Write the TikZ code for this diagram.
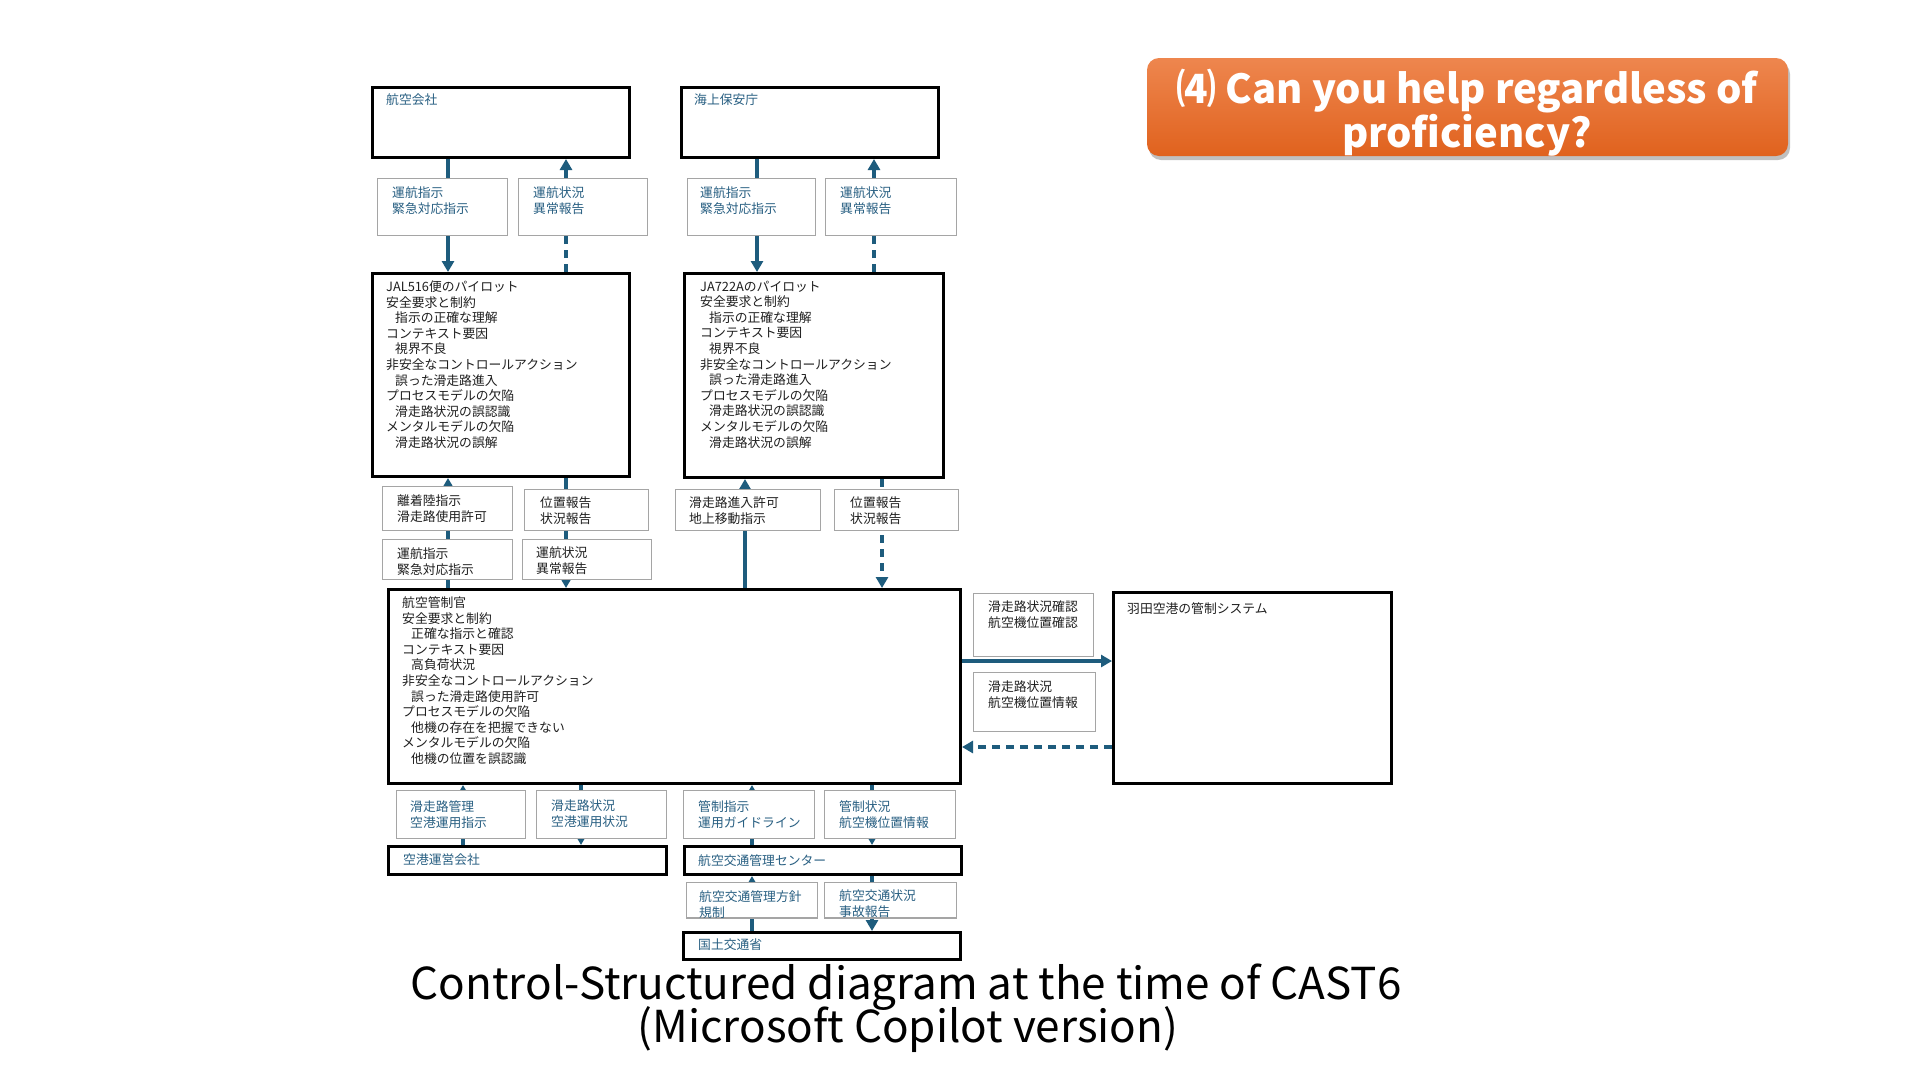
\documentclass[tikz,border=0pt]{standalone}
\usepackage{fontspec}
\setmainfont{Noto Sans CJK JP}
\usetikzlibrary{arrows.meta,shadows}
\definecolor{teal1}{RGB}{40,95,130}
\definecolor{arrowc}{RGB}{30,92,125}
\definecolor{lblgray}{RGB}{165,165,165}
\definecolor{orT}{RGB}{238,134,78}
\definecolor{orB}{RGB}{224,98,30}
\pgfdeclarelayer{bg}
\pgfsetlayers{bg,main}
\newcommand\mkbox[6]{\node[#1, anchor=north west, minimum width={#5-#3}, minimum height={#6-#4}] (#2) at (#3,#4) {};}
\newcommand\ind{\hspace*{9pt}}
\tikzset{
 mainbox/.style={draw=black, line width=3pt, inner sep=0pt},
 lblbox/.style={draw=lblgray, line width=1pt, fill=white, inner sep=0pt},
 tx/.style={anchor=north west, inner sep=0pt, align=left, yshift=6pt, font=\fontsize{12.8}{16}\selectfont},
 txb/.style={tx, text=black!88},
 txt/.style={tx, text=teal1},
 bigtx/.style={tx, text=black!88, font=\fontsize{12.8}{15.6}\selectfont},
 ctl/.style={draw=arrowc, line width=3.2pt, -{Triangle[width=12pt,length=11pt]}},
 fb/.style={ctl, dash pattern=on 8pt off 6pt},
 fbline/.style={draw=arrowc, line width=3.2pt, dash pattern=on 8pt off 6pt},
 captxt/.style={font=\fontsize{44}{44}\selectfont, inner sep=0pt},
}
\begin{document}
\begin{tikzpicture}[x=1pt,y=-1pt]
\useasboundingbox (0,0) rectangle (1920,1080);
\begin{pgfonlayer}{bg}
\fill[white] (0,0) rectangle (1920,1080);
\end{pgfonlayer}
% column and row coordinates
\coordinate (cA) at (448,0);
\coordinate (cB) at (566,0);
\coordinate (cC) at (757,0);
\coordinate (cD) at (874,0);
\coordinate (cE) at (745,0);
\coordinate (cF) at (882,0);
\coordinate (cG) at (463,0);
\coordinate (cH) at (581,0);
\coordinate (cI) at (752,0);
\coordinate (cJ) at (872,0);
\coordinate (rA) at (0,661);
\coordinate (rB) at (0,747);
% main boxes
\mkbox{mainbox}{co1}{371}{86}{628}{156}
\mkbox{mainbox}{co2}{680}{86}{937}{156}
\mkbox{mainbox}{pl1}{371}{272}{628}{475}
\mkbox{mainbox}{pl2}{683}{272}{942}{476}
\mkbox{mainbox}{atc}{387}{588}{959}{782}
\mkbox{mainbox}{han}{1112}{591}{1390}{782}
\mkbox{mainbox}{apo}{387}{845}{665}{873}
\mkbox{mainbox}{atm}{683}{845}{960}{873}
\mkbox{mainbox}{mlit}{682}{931}{959}{958}
% label boxes
\mkbox{lblbox}{l1}{377}{178}{507}{235}
\mkbox{lblbox}{l2}{518}{178}{647}{235}
\mkbox{lblbox}{l3}{687}{178}{815}{235}
\mkbox{lblbox}{l4}{825}{178}{956}{235}
\mkbox{lblbox}{l5}{382}{486}{512}{530}
\mkbox{lblbox}{l6}{524}{489}{648}{530}
\mkbox{lblbox}{l7}{382}{539}{512}{579}
\mkbox{lblbox}{l8}{522}{539}{651}{579}
\mkbox{lblbox}{l9}{675}{489}{820}{530}
\mkbox{lblbox}{l10}{834}{489}{958}{530}
\mkbox{lblbox}{l11}{973}{593}{1093}{656}
\mkbox{lblbox}{l12}{973}{672}{1095}{731}
\mkbox{lblbox}{l13}{396}{790}{525}{838}
\mkbox{lblbox}{l14}{536}{790}{666}{838}
\mkbox{lblbox}{l15}{683}{790}{814}{838}
\mkbox{lblbox}{l16}{824}{790}{955}{838}
\mkbox{lblbox}{l17}{686}{882}{817}{917}
\mkbox{lblbox}{l18}{824}{882}{956}{917}
\begin{pgfonlayer}{bg}
% arrows row 1
\draw[ctl] (co1.south -| cA) -- (pl1.north -| cA);
\draw[fbline] (pl1.north -| cB) -- (l2.south -| cB);
\draw[ctl] (l2.north -| cB) -- (co1.south -| cB);
\draw[ctl] (co2.south -| cC) -- (pl2.north -| cC);
\draw[fbline] (pl2.north -| cD) -- (l4.south -| cD);
\draw[ctl] (l4.north -| cD) -- (co2.south -| cD);
% arrows pilots - ATC
\draw[ctl] (atc.north -| cA) -- (pl1.south -| cA);
\draw[ctl] (pl1.south -| cB) -- (atc.north -| cB);
\draw[ctl] (atc.north -| cE) -- (pl2.south -| cE);
\draw[fb] (pl2.south -| cF) -- (atc.north -| cF);
% ATC - Haneda
\draw[ctl] (atc.east |- rA) -- (han.west |- rA);
\draw[fb] (han.west |- rB) -- (atc.east |- rB);
% ATC - bottom
\draw[ctl] (apo.north -| cG) -- (atc.south -| cG);
\draw[ctl] (atc.south -| cH) -- (apo.north -| cH);
\draw[ctl] (atm.north -| cI) -- (atc.south -| cI);
\draw[ctl] (atc.south -| cJ) -- (atm.north -| cJ);
\draw[ctl] (mlit.north -| cI) -- (atm.south -| cI);
\draw[ctl] (atm.south -| cJ) -- (mlit.north -| cJ);
\end{pgfonlayer}
% texts
\node[txt] (t-co1) at (386,100) {航空会社};
\node[txt] (t-co2) at (694,100) {海上保安庁};
\node[txt] (t-l1) at (392,193) {運航指示\\緊急対応指示};
\node[txt] (t-l2) at (533,193) {運航状況\\異常報告};
\node[txt] (t-l3) at (700,193) {運航指示\\緊急対応指示};
\node[txt] (t-l4) at (840,193) {運航状況\\異常報告};
\node[bigtx] (t-pl1) at (386,286.5) {JAL516便のパイロット\\安全要求と制約\\\ind 指示の正確な理解\\コンテキスト要因\\\ind 視界不良\\非安全なコントロールアクション\\\ind 誤った滑走路進入\\プロセスモデルの欠陥\\\ind 滑走路状況の誤認識\\メンタルモデルの欠陥\\\ind 滑走路状況の誤解};
\node[bigtx] (t-pl2) at (700,286.5) {JA722Aのパイロット\\安全要求と制約\\\ind 指示の正確な理解\\コンテキスト要因\\\ind 視界不良\\非安全なコントロールアクション\\\ind 誤った滑走路進入\\プロセスモデルの欠陥\\\ind 滑走路状況の誤認識\\メンタルモデルの欠陥\\\ind 滑走路状況の誤解};
\node[txb] (t-l5) at (397,500) {離着陸指示\\滑走路使用許可};
\node[txb] (t-l6) at (540,503) {位置報告\\状況報告};
\node[txb] (t-l7) at (397,554) {運航指示\\緊急対応指示};
\node[txb] (t-l8) at (536,553) {運航状況\\異常報告};
\node[txb] (t-l9) at (689,503) {滑走路進入許可\\地上移動指示};
\node[txb] (t-l10) at (850,503) {位置報告\\状況報告};
\node[bigtx] (t-atc) at (402,602.5) {航空管制官\\安全要求と制約\\\ind 正確な指示と確認\\コンテキスト要因\\\ind 高負荷状況\\非安全なコントロールアクション\\\ind 誤った滑走路使用許可\\プロセスモデルの欠陥\\\ind 他機の存在を把握できない\\メンタルモデルの欠陥\\\ind 他機の位置を誤認識};
\node[txb] (t-l11) at (988,607) {滑走路状況確認\\航空機位置確認};
\node[txb] (t-l12) at (988,687) {滑走路状況\\航空機位置情報};
\node[txb] (t-han) at (1127,608) {羽田空港の管制システム};
\node[txt] (t-l13) at (410,806) {滑走路管理\\空港運用指示};
\node[txt] (t-l14) at (551,806) {滑走路状況\\空港運用状況};
\node[txt] (t-l15) at (698,806) {管制指示\\運用ガイドライン};
\node[txt] (t-l16) at (839,806) {管制状況\\航空機位置情報};
\node[txt] (t-apo) at (403,860) {空港運営会社};
\node[txt] (t-atm) at (698,860) {航空交通管理センター};
\node[txt] (t-l17) at (699,896) {航空交通管理方針\\規制};
\node[txt] (t-l18) at (839,896) {航空交通状況\\事故報告};
\node[txt] (t-mlit) at (698,945) {国土交通省};
\draw[draw=lblgray, line width=1pt] (l17.south west) -- (l17.south east);
\draw[draw=lblgray, line width=1pt] (l18.south west) -- (l18.south east);
% title
\node[rounded corners=12pt, top color=orT, bottom color=orB, minimum width=641pt, minimum height=98pt, inner sep=0pt, drop shadow={shadow xshift=2pt, shadow yshift=-4pt, opacity=0.35, fill=black!70}] (title) at (1467.5,107) {};
\node[text=white, font=\fontsize{40}{42}\selectfont\bfseries, align=center, inner sep=0pt] (titletext) at (1467,113) {⑷ Can you help regardless of\\proficiency?};
% caption
\node[captxt] (cap1) at (906,987) {Control-Structured diagram at the time of CAST6};
\node[captxt] (cap2) at (908,1030) {(Microsoft Copilot version)};
\end{tikzpicture}
\end{document}
